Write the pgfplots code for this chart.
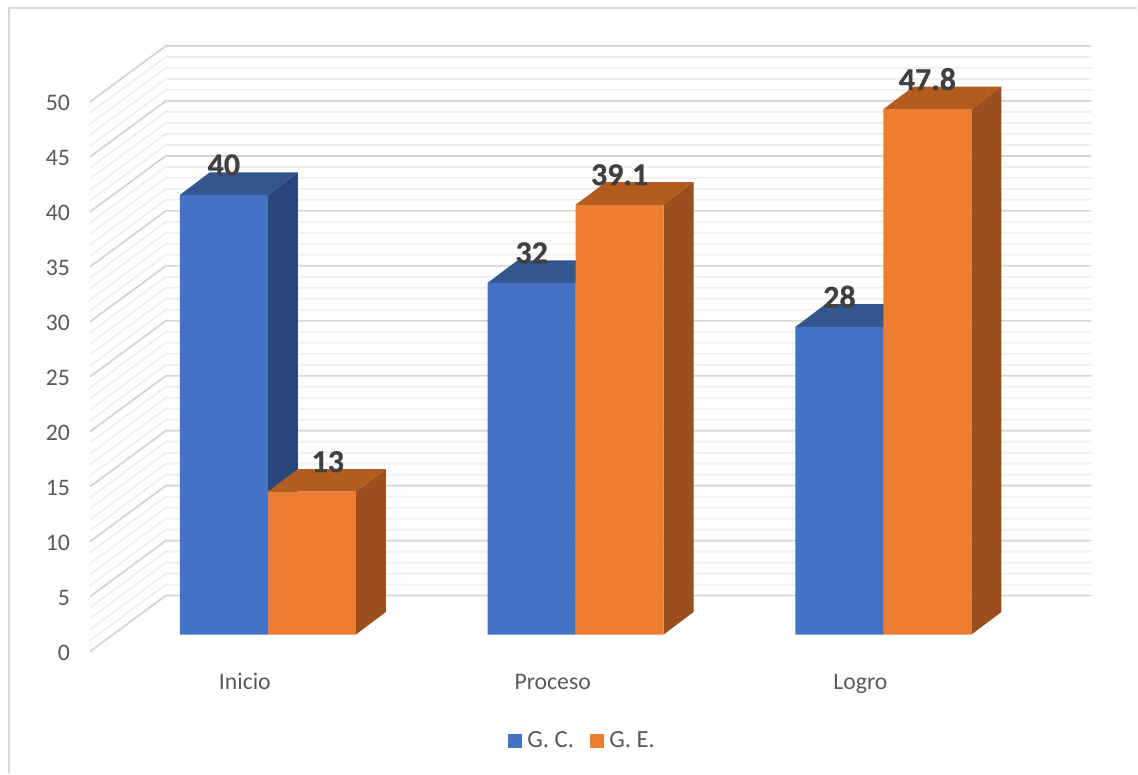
\documentclass[border=0pt]{standalone}
\usepackage{pgfplots}
\usepackage{fontspec}
\setmainfont{Carlito}
\newfontfamily\vlabelfont{Carlito}[FakeBold=0.6]
\pgfplotsset{compat=1.18}
\definecolor{gcfront}{HTML}{4472C4}
\definecolor{gctop}{HTML}{34568F}
\definecolor{gcside}{HTML}{2A477D}
\definecolor{gefront}{HTML}{ED7D31}
\definecolor{getop}{HTML}{B25C20}
\definecolor{geside}{HTML}{9A4F1C}
\definecolor{gridmajor}{HTML}{D6D6D6}
\definecolor{gridminor}{HTML}{F0F0F0}
\definecolor{framecol}{HTML}{D9D9D9}
\definecolor{txt}{HTML}{595959}
\definecolor{vallabel}{HTML}{404040}
\newcommand{\vlabel}[3]{\node[font=\fontsize{24}{24}\vlabelfont\bfseries,text=vallabel,inner sep=0pt,yshift=22.5pt] at (axis cs:#1,#2) {#3};}
\begin{document}
\begin{tikzpicture}
\begin{axis}[
  scale only axis,
  width=751.5pt, height=412.5pt,
  xmin=90, xmax=1092, ymin=0, ymax=50,
  clip=false,
  axis line style={draw=none},
  major tick length=0pt,
  xtick={245,553,861},
  xticklabels={Inicio,Proceso,Logro},
  ytick={0,5,...,50},
  /pgf/number format/assume math mode=true,
  tick label style={font=\fontsize{17.8}{20}\selectfont,text=txt},
  yticklabel style={anchor=east,xshift=-11.5pt,yshift=-13.5pt},
  xticklabel style={anchor=center,text height=12pt,text depth=4pt,yshift=-37.25pt},
  legend style={at={(axis cs:583,-9.65)},anchor=center,draw=none,fill=none,
    legend columns=2,font=\fontsize{18.5}{20}\selectfont,text=txt,
    /tikz/every even column/.append style={column sep=9.75pt},
    inner sep=0pt},
  legend image code/.code={\path[#1,draw=none] (0pt,-5.25pt) rectangle (10.5pt,5.25pt);\path (0pt,0pt) -- (12.75pt,0pt);},
]
% page extent and chart frame
\path (axis cs:0,-12.636) rectangle (axis cs:1138,57.727);
\draw[framecol,line width=1.1pt] (axis cs:9,-12.636) -- (axis cs:9,57) -- (axis cs:1138,57);

% walls: minor lines at every unit, major lines at every fifth
\pgfplotsinvokeforeach{1,2,3,4,6,7,8,9,11,12,13,14,16,17,18,19,21,22,23,24,26,27,28,29,31,32,33,34,36,37,38,39,41,42,43,44,46,47,48,49}{
  \draw[gridminor,line width=1.4pt] (axis cs:90,{#1-1.545}) -- (axis cs:166,{#1+3.55}) -- (axis cs:1092,{#1+3.55});
}
\pgfplotsinvokeforeach{0,5,10,15,20,25,30,35,40,45,50}{
  \draw[gridmajor,line width=1.4pt] (axis cs:90,{#1-1.545}) -- (axis cs:166,{#1+3.55}) -- (axis cs:1092,{#1+3.55});
}

% G. C. depth faces
\addplot[fill=gcside,draw=none,forget plot] coordinates {(268,0)(298,2.05)(298,42.05)(268,40)} -- cycle;
\addplot[fill=gctop,draw=none,forget plot] coordinates {(180,40)(210,42.05)(298,42.05)(268,40)} -- cycle;
\addplot[fill=gcside,draw=none,forget plot] coordinates {(576,0)(606,2.05)(606,34.05)(576,32)} -- cycle;
\addplot[fill=gctop,draw=none,forget plot] coordinates {(488,32)(518,34.05)(606,34.05)(576,32)} -- cycle;
\addplot[fill=gcside,draw=none,forget plot] coordinates {(884,0)(914,2.05)(914,30.05)(884,28)} -- cycle;
\addplot[fill=gctop,draw=none,forget plot] coordinates {(796,28)(826,30.05)(914,30.05)(884,28)} -- cycle;
% G. C. front faces
\addplot[ybar,bar width=66pt,bar shift=0pt,fill=gcfront,draw=none] coordinates {(224,40)(532,32)(840,28)};
\addlegendentry{G. C.}

% G. E. depth faces
\addplot[fill=geside,draw=none,forget plot] coordinates {(356,0)(386,2.05)(386,15.05)(356,13)} -- cycle;
\addplot[fill=getop,draw=none,forget plot] coordinates {(268,13)(298,15.05)(386,15.05)(356,13)} -- cycle;
\addplot[fill=geside,draw=none,forget plot] coordinates {(664,0)(694,2.05)(694,41.15)(664,39.1)} -- cycle;
\addplot[fill=getop,draw=none,forget plot] coordinates {(576,39.1)(606,41.15)(694,41.15)(664,39.1)} -- cycle;
\addplot[fill=geside,draw=none,forget plot] coordinates {(972,0)(1002,2.05)(1002,49.85)(972,47.8)} -- cycle;
\addplot[fill=getop,draw=none,forget plot] coordinates {(884,47.8)(914,49.85)(1002,49.85)(972,47.8)} -- cycle;
% G. E. front faces
\addplot[ybar,bar width=66pt,bar shift=0pt,fill=gefront,draw=none] coordinates {(312,13)(620,39.1)(928,47.8)};
\addlegendentry{G. E.}

% value labels
\vlabel{224}{40}{40}
\vlabel{532}{32}{32}
\vlabel{840}{28}{28}
\vlabel{328}{13}{13}
\vlabel{620}{39.1}{39.1}
\vlabel{928}{47.8}{47.8}
\end{axis}
\end{tikzpicture}
\end{document}
